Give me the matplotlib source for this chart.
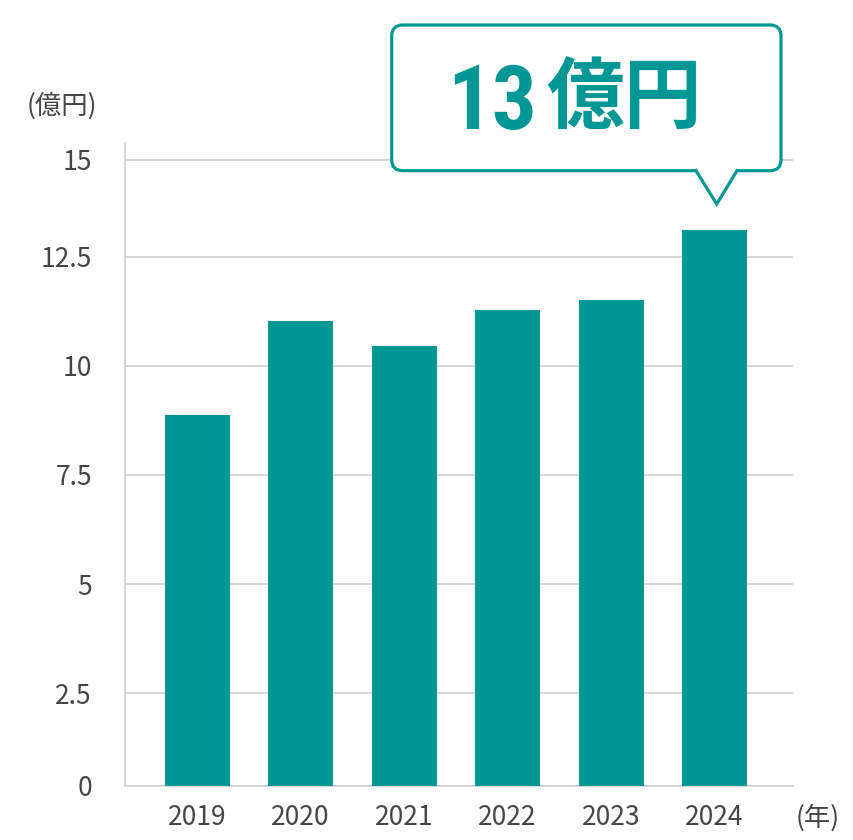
import numpy as np
import matplotlib
matplotlib.use("Agg")
import matplotlib.pyplot as plt
from matplotlib import font_manager as fm
from matplotlib.patches import FancyBboxPatch, Polygon
from matplotlib.lines import Line2D
import matplotlib.transforms as mtransforms

# ---- data ----
years = ["2019", "2020", "2021", "2022", "2023", "2024"]
values = [8.87, 11.02, 10.45, 11.28, 11.5, 13.2]
yticks = [0, 2.5, 5, 7.5, 10, 12.5, 15]
ytick_labels = ["0", "2.5", "5", "7.5", "10", "12.5", "15"]
y_unit = "(億円)"
x_unit = "(年)"
callout_num = "13"
callout_unit = "億円"

TEAL = "#009795"
GRID = "#d2d2d2"
TXT = "#454545"
JP = ["Noto Sans CJK JP", "DejaVu Sans"]

names = {f.name for f in fm.fontManager.ttflist}
cond = None
for n in ["Roboto Condensed", "Liberation Sans Narrow"]:
    if n in names:
        cond = n
        break

W, H, DPI = 854, 840, 100
fig = plt.figure(figsize=(W / DPI, H / DPI), dpi=DPI)

def fx(px):
    return px / W

def fy(py):
    return 1 - py / H

left, right, bottom, top = 125.3, 792.7, 785.7, 143.3
ax = fig.add_axes([fx(left), fy(bottom), fx(right - left), (bottom - top) / H])

# piecewise scale matching the reference's uneven gridline spacing
brk_v = np.array([0, 2.5, 12.5, 15, 16])
brk_p = np.array([0, 92.4, 529.0, 625.7, 664.4])
def fwd(v):
    return np.interp(v, brk_v, brk_p)
def inv(p):
    return np.interp(p, brk_p, brk_v)
ax.set_yscale("function", functions=(fwd, inv))

x = np.arange(len(years))
ax.bar(x, values, width=0.628, color=TEAL, zorder=3)
ax.set_xlim(-0.695, 5.755)
ax.set_ylim(0, inv(642.4))

ax.set_yticks(yticks)
ax.set_yticklabels(ytick_labels)
ax.set_xticks(x)
ax.set_xticklabels(years)
ax.tick_params(axis="both", length=0, labelsize=19, labelcolor=TXT)
ax.tick_params(axis="y", pad=24)
ax.tick_params(axis="x", pad=13.5)
for lab in ax.get_xticklabels() + ax.get_yticklabels():
    lab.set_family(JP)

ax.grid(axis="y", color=GRID, linewidth=1.3, zorder=1)
ax.set_axisbelow(True)
for s in ["top", "right"]:
    ax.spines[s].set_visible(False)
for s in ["left", "bottom"]:
    ax.spines[s].set_color(GRID)
    ax.spines[s].set_linewidth(1.3)

fig.text(fx(27), fy(106), y_unit, family=JP, fontsize=19, color=TXT, ha="left",
         va="center")
ax.annotate(x_unit, xy=(1, 0), xycoords="axes fraction", xytext=(2, -13.5),
            textcoords="offset points", ha="left", va="top", family=JP, fontsize=19,
            color=TXT)

# ---- callout ----
pix = mtransforms.Affine2D().scale(1 / DPI) + fig.dpi_scale_trans
bx0, bx1, by0, by1 = 391.7, 781.0, 25.0, 170.7
box = FancyBboxPatch((bx0, H - by1), bx1 - bx0, by1 - by0,
                     boxstyle="round,pad=0,rounding_size=11", transform=pix,
                     facecolor="white", edgecolor=TEAL, linewidth=2.3, zorder=10)
fig.add_artist(box)
tl, tr, tip = (696.0, by1), (737.0, by1), (716.7, 204.0)
cover = Polygon([(tl[0], H - tl[1] + 3), (tip[0], H - tip[1]), (tr[0], H - tr[1] + 3)],
                closed=True, transform=pix, facecolor="white", edgecolor="none", zorder=11)
fig.add_artist(cover)
fig.add_artist(Line2D([tl[0], tip[0], tr[0]], [H - tl[1], H - tip[1], H - tr[1]],
                      transform=pix, color=TEAL, linewidth=2.3, zorder=12,
                      solid_joinstyle="miter"))

num_family = [cond, "Noto Sans CJK JP"] if cond else ["Noto Sans CJK JP"]
fig.text(fx(537), fy(129.5), callout_num, family=num_family, fontweight="bold",
         fontsize=64, color=TEAL, ha="right", va="baseline", zorder=13)
fig.text(fx(546), fy(122), callout_unit, family=["Noto Sans CJK JP"], fontweight="bold",
         fontsize=56, color=TEAL, ha="left", va="baseline", zorder=13)

fig.savefig("out.png", dpi=DPI)
